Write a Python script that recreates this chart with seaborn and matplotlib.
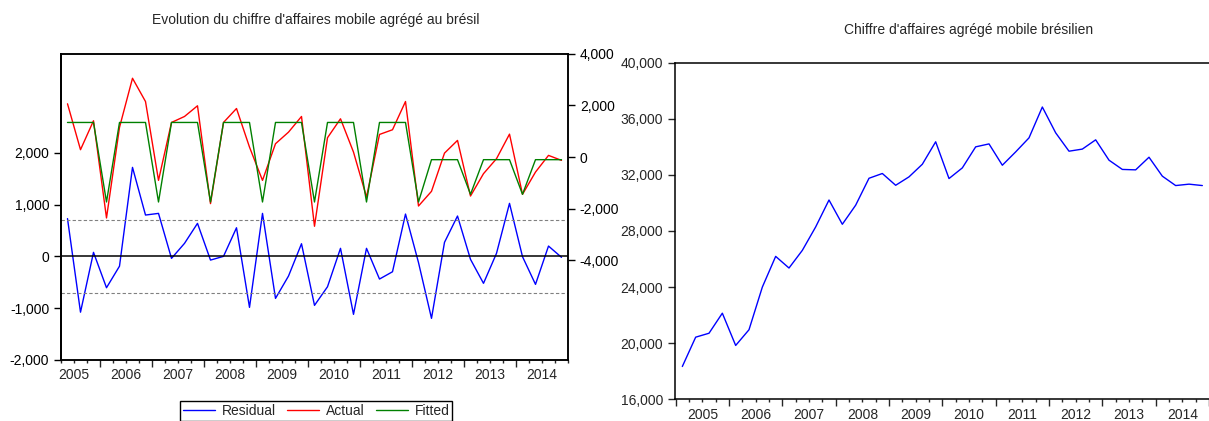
import numpy as np
import pandas as pd
import seaborn as sns
import matplotlib.pyplot as plt
from matplotlib.ticker import FuncFormatter, FixedLocator

# left panel: quarterly 2005Q2 - 2014Q4 (first difference model)
residual = [730, -1080, 77, -607, -190, 1721, 799, 831, -39, 251, 638, -72,
            0, 553, -987, 831, -813, -381, 244, -948, -588, 155, -1122, 155,
            -439, -298, 818, -120, -1199, 271, 780, -58, -522, 58, 1025, -6,
            -542, 199, -19]
actual = [2062, 286, 1405, -2355, 1150, 3050, 2150, -900, 1340, 1571, 1985, -1800,
          1340, 1880, 386, -900, 517, 965, 1571, -2676, 749, 1482, 193, -1544,
          876, 1058, 2150, -1892, -1324, 154, 645, -1506, -641, -62, 888, -1440,
          -579, 66, -127]
fitted = [1340, 1340, 1340, -1737, 1340, 1340, 1340, -1737, 1340, 1340, 1340, -1737,
          1340, 1340, 1340, -1737, 1340, 1340, 1340, -1737, 1340, 1340, 1340, -1737,
          1340, 1340, 1340, -1737, -100, -100, -100, -1440, -100, -100, -100, -1440,
          -100, -100, -100]

# right panel: quarterly 2005Q1 - 2014Q4
revenue = [18340, 20430, 20710, 22140, 19840, 20960, 24000, 26190, 25360, 26620,
           28290, 30210, 28480, 29840, 31760, 32100, 31260, 31860, 32760, 34360,
           31740, 32500, 34000, 34210, 32690, 33640, 34640, 36840, 35000, 33690,
           33840, 34500, 33050, 32390, 32360, 33260, 31910, 31240, 31340, 31240]

years = [2005, 2006, 2007, 2008, 2009, 2010, 2011, 2012, 2013, 2014]

left = pd.DataFrame({"t": np.arange(len(residual)), "Residual": residual,
                     "Actual": actual, "Fitted": fitted})
right = pd.DataFrame({"t": np.arange(len(revenue)), "Revenue": revenue})

sns.set_style("ticks")
plt.rcParams['font.family'] = ['Liberation Sans', 'DejaVu Sans']
plt.rcParams['axes.linewidth'] = 1.1

W, H = 1209, 421
fig = plt.figure(figsize=(W / 100, H / 100), dpi=100)
comma = FuncFormatter(lambda v, p: f"{int(round(v)):,}")

# ---------- left panel ----------
ax1 = fig.add_axes([61 / W, (H - 360) / H, 507 / W, 306.3 / H])
ax2 = ax1.twinx()

sns.lineplot(data=left, x="t", y="Residual", ax=ax1, color="blue", lw=1.0)
sns.lineplot(data=left, x="t", y="Actual", ax=ax2, color="red", lw=1.0)
sns.lineplot(data=left, x="t", y="Fitted", ax=ax2, color="green", lw=1.0)
ax1.axhline(0, color="black", lw=1.1)
ax1.axhline(700, color="gray", lw=0.8, ls=(0, (3, 2)))
ax1.axhline(-700, color="gray", lw=0.8, ls=(0, (3, 2)))

ax1.set_xlim(-0.5, 38.5)
ax1.set_ylim(-2005, 3920)
ax2.set_ylim(-7850, 3980)
ax1.set_yticks([-2000, -1000, 0, 1000, 2000])
ax2.set_yticks([-4000, -2000, 0, 2000, 4000])
ax1.yaxis.set_major_formatter(comma)
ax2.yaxis.set_major_formatter(comma)
for a in (ax1, ax2):
    a.set_xlabel("")
    a.set_ylabel("")
    a.tick_params(axis="y", labelsize=10, length=5, width=1, colors="black")
    for s in a.spines.values():
        s.set_visible(True)
        s.set_color("black")
ax1.spines["left"].set_linewidth(1.4)

ax1.xaxis.set_major_locator(FixedLocator([4 * k + 2.5 for k in range(9)]))
ax1.xaxis.set_minor_locator(FixedLocator([i - 0.5 for i in range(40)]))
ax1.tick_params(axis="x", which="major", length=5, width=1, labelbottom=False)
ax1.tick_params(axis="x", which="minor", length=2.5, width=1)
sec1 = ax1.secondary_xaxis("bottom")
sec1.set_xticks([4 * k + 0.5 for k in range(len(years))], [str(y) for y in years])
sec1.tick_params(length=0, labelsize=10, pad=6)
sec1.spines["bottom"].set_visible(False)

fig.text(316 / W, 1 - 20 / H, "Evolution du chiffre d'affaires mobile agrégé au brésil",
         ha="center", va="center", fontsize=10)

handles = ax1.get_lines()[:1] + ax2.get_lines()[:2]
fig.legend(handles, ["Residual", "Actual", "Fitted"], loc="upper center",
           bbox_to_anchor=(316 / W, 1 - 401 / H), ncol=3, fontsize=10,
           frameon=True, fancybox=False, edgecolor="black", framealpha=1,
           handlelength=2.3, handletextpad=0.5, columnspacing=0.8, borderpad=0.2,
           borderaxespad=0)

# ---------- right panel ----------
ax3 = fig.add_axes([675 / W, (H - 399.3) / H, 534 / W, 336.6 / H])
sns.lineplot(data=right, x="t", y="Revenue", ax=ax3, color="blue", lw=1.0)
ax3.set_xlim(-0.55, 39.5)
ax3.set_ylim(16000, 40000)
ax3.set_yticks(np.arange(16000, 40001, 4000))
ax3.yaxis.set_major_formatter(comma)
ax3.set_xlabel("")
ax3.set_ylabel("")
ax3.tick_params(axis="y", labelsize=10, length=5, width=1)
for s in ax3.spines.values():
    s.set_color("black")
ax3.spines["right"].set_visible(False)
ax3.spines["top"].set_visible(True)

ax3.xaxis.set_major_locator(FixedLocator([4 * k - 0.5 for k in range(11)]))
ax3.xaxis.set_minor_locator(FixedLocator([i - 0.5 for i in range(41)]))
ax3.tick_params(axis="x", which="major", length=5, width=1, labelbottom=False)
ax3.tick_params(axis="x", which="minor", length=2.5, width=1)
sec3 = ax3.secondary_xaxis("bottom")
sec3.set_xticks([4 * k + 1.5 for k in range(len(years))], [str(y) for y in years])
sec3.tick_params(length=0, labelsize=10, pad=6)
sec3.spines["bottom"].set_visible(False)

fig.text(969 / W, 1 - 30 / H, "Chiffre d'affaires agrégé mobile brésilien",
         ha="center", va="center", fontsize=10)

fig.savefig("out.png", dpi=100)
